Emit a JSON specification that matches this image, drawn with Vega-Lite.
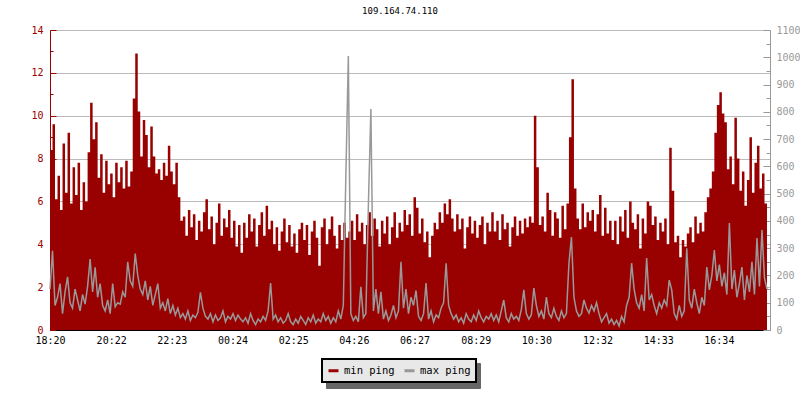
{
  "$schema": "https://vega.github.io/schema/vega-lite/v6.json",
  "width": 720,
  "height": 300,
  "autosize": {"type": "none"},
  "padding": {"left": 50, "top": 30, "right": 30, "bottom": 70},
  "background": "white",
  "title": {"text": "109.164.74.110", "font": "DejaVu Sans Mono", "fontSize": 9, "fontWeight": "normal", "color": "black", "anchor": "middle", "offset": 9, "dx": -10},
  "config": {"view": {"stroke": null}, "axis": {"labelFont": "DejaVu Sans Mono", "labelFontSize": 10, "domainWidth": 1, "tickWidth": 1}},
  "data": {"values": [
{"m":0,"minPing":8.4,"maxPing":150},{"m":5,"minPing":9.6,"maxPing":290},{"m":10,"minPing":6.1,"maxPing":90},{"m":15,"minPing":7.2,"maxPing":120},{"m":20,"minPing":5.6,"maxPing":170},{"m":25,"minPing":8.7,"maxPing":60},{"m":30,"minPing":6.4,"maxPing":140},{"m":35,"minPing":9.2,"maxPing":195},{"m":40,"minPing":5.9,"maxPing":100},{"m":45,"minPing":7.6,"maxPing":80},
{"m":50,"minPing":6.3,"maxPing":150},{"m":55,"minPing":7.8,"maxPing":110},{"m":60,"minPing":5.6,"maxPing":70},{"m":65,"minPing":6.9,"maxPing":130},{"m":70,"minPing":6.0,"maxPing":95},{"m":75,"minPing":8.3,"maxPing":160},{"m":80,"minPing":10.6,"maxPing":260},{"m":85,"minPing":8.9,"maxPing":140},{"m":90,"minPing":9.7,"maxPing":230},{"m":95,"minPing":7.1,"maxPing":120},
{"m":100,"minPing":8.2,"maxPing":170},{"m":105,"minPing":6.4,"maxPing":90},{"m":110,"minPing":7.9,"maxPing":70},{"m":115,"minPing":6.8,"maxPing":110},{"m":120,"minPing":7.3,"maxPing":60},{"m":125,"minPing":6.2,"maxPing":170},{"m":130,"minPing":7.8,"maxPing":85},{"m":135,"minPing":6.9,"maxPing":100},{"m":140,"minPing":7.6,"maxPing":95},{"m":145,"minPing":6.6,"maxPing":140},
{"m":150,"minPing":7.9,"maxPing":120},{"m":155,"minPing":6.7,"maxPing":250},{"m":160,"minPing":7.4,"maxPing":180},{"m":165,"minPing":10.8,"maxPing":160},{"m":170,"minPing":12.9,"maxPing":280},{"m":175,"minPing":10.2,"maxPing":200},{"m":180,"minPing":8.1,"maxPing":150},{"m":185,"minPing":9.8,"maxPing":130},{"m":190,"minPing":9.1,"maxPing":180},{"m":195,"minPing":7.6,"maxPing":110},
{"m":200,"minPing":9.5,"maxPing":160},{"m":205,"minPing":8.1,"maxPing":90},{"m":210,"minPing":7.3,"maxPing":130},{"m":215,"minPing":7.5,"maxPing":170},{"m":220,"minPing":7.0,"maxPing":80},{"m":225,"minPing":7.8,"maxPing":100},{"m":230,"minPing":7.2,"maxPing":70},{"m":235,"minPing":8.6,"maxPing":115},{"m":240,"minPing":7.4,"maxPing":60},{"m":245,"minPing":6.8,"maxPing":90},
{"m":250,"minPing":7.8,"maxPing":55},{"m":255,"minPing":6.2,"maxPing":80},{"m":260,"minPing":5.1,"maxPing":45},{"m":265,"minPing":5.3,"maxPing":60},{"m":270,"minPing":4.4,"maxPing":40},{"m":275,"minPing":5.6,"maxPing":70},{"m":280,"minPing":4.8,"maxPing":35},{"m":285,"minPing":5.4,"maxPing":55},{"m":290,"minPing":4.2,"maxPing":45},{"m":295,"minPing":5.1,"maxPing":65},
{"m":300,"minPing":4.6,"maxPing":138},{"m":305,"minPing":5.5,"maxPing":80},{"m":310,"minPing":6.1,"maxPing":50},{"m":315,"minPing":4.7,"maxPing":40},{"m":320,"minPing":5.3,"maxPing":60},{"m":325,"minPing":4.0,"maxPing":30},{"m":330,"minPing":5.0,"maxPing":55},{"m":335,"minPing":5.9,"maxPing":35},{"m":340,"minPing":4.4,"maxPing":45},{"m":345,"minPing":5.2,"maxPing":70},
{"m":350,"minPing":4.8,"maxPing":30},{"m":355,"minPing":5.6,"maxPing":50},{"m":360,"minPing":4.3,"maxPing":40},{"m":365,"minPing":5.1,"maxPing":60},{"m":370,"minPing":3.9,"maxPing":35},{"m":375,"minPing":4.9,"maxPing":55},{"m":380,"minPing":3.6,"maxPing":40},{"m":385,"minPing":5.0,"maxPing":30},{"m":390,"minPing":4.3,"maxPing":45},{"m":395,"minPing":5.4,"maxPing":25},
{"m":400,"minPing":4.6,"maxPing":60},{"m":405,"minPing":5.2,"maxPing":35},{"m":410,"minPing":3.9,"maxPing":20},{"m":415,"minPing":4.9,"maxPing":40},{"m":420,"minPing":5.5,"maxPing":30},{"m":425,"minPing":4.4,"maxPing":50},{"m":430,"minPing":5.8,"maxPing":35},{"m":435,"minPing":4.7,"maxPing":70},{"m":440,"minPing":5.1,"maxPing":172},{"m":445,"minPing":4.0,"maxPing":40},
{"m":450,"minPing":4.8,"maxPing":55},{"m":455,"minPing":3.7,"maxPing":30},{"m":460,"minPing":4.6,"maxPing":45},{"m":465,"minPing":5.2,"maxPing":25},{"m":470,"minPing":4.1,"maxPing":35},{"m":475,"minPing":4.9,"maxPing":60},{"m":480,"minPing":3.9,"maxPing":30},{"m":485,"minPing":4.5,"maxPing":20},{"m":490,"minPing":3.6,"maxPing":40},{"m":495,"minPing":4.7,"maxPing":25},
{"m":500,"minPing":5.0,"maxPing":50},{"m":505,"minPing":4.2,"maxPing":35},{"m":510,"minPing":4.9,"maxPing":20},{"m":515,"minPing":3.5,"maxPing":45},{"m":520,"minPing":4.6,"maxPing":30},{"m":525,"minPing":5.1,"maxPing":55},{"m":530,"minPing":4.3,"maxPing":25},{"m":535,"minPing":3.0,"maxPing":40},{"m":540,"minPing":4.8,"maxPing":30},{"m":545,"minPing":5.2,"maxPing":60},
{"m":550,"minPing":4.0,"maxPing":35},{"m":555,"minPing":4.7,"maxPing":50},{"m":560,"minPing":5.3,"maxPing":25},{"m":565,"minPing":4.4,"maxPing":45},{"m":570,"minPing":3.8,"maxPing":30},{"m":575,"minPing":4.9,"maxPing":70},{"m":580,"minPing":4.2,"maxPing":40},{"m":585,"minPing":5.0,"maxPing":90},{"m":590,"minPing":4.3,"maxPing":560},{"m":595,"minPing":4.6,"maxPing":1005},
{"m":600,"minPing":5.1,"maxPing":60},{"m":605,"minPing":4.2,"maxPing":35},{"m":610,"minPing":5.4,"maxPing":50},{"m":615,"minPing":4.6,"maxPing":30},{"m":620,"minPing":5.0,"maxPing":158},{"m":625,"minPing":4.0,"maxPing":45},{"m":630,"minPing":4.9,"maxPing":60},{"m":635,"minPing":5.5,"maxPing":458},{"m":640,"minPing":4.4,"maxPing":810},{"m":645,"minPing":5.2,"maxPing":70},
{"m":650,"minPing":4.7,"maxPing":150},{"m":655,"minPing":3.9,"maxPing":60},{"m":660,"minPing":5.1,"maxPing":140},{"m":665,"minPing":4.5,"maxPing":40},{"m":670,"minPing":5.3,"maxPing":70},{"m":675,"minPing":4.0,"maxPing":35},{"m":680,"minPing":4.8,"maxPing":55},{"m":685,"minPing":5.5,"maxPing":90},{"m":690,"minPing":4.3,"maxPing":45},{"m":695,"minPing":5.0,"maxPing":70},
{"m":700,"minPing":4.6,"maxPing":250},{"m":705,"minPing":5.6,"maxPing":80},{"m":710,"minPing":4.9,"maxPing":150},{"m":715,"minPing":5.4,"maxPing":60},{"m":720,"minPing":4.4,"maxPing":120},{"m":725,"minPing":6.2,"maxPing":90},{"m":730,"minPing":5.7,"maxPing":145},{"m":735,"minPing":4.5,"maxPing":50},{"m":740,"minPing":5.2,"maxPing":35},{"m":745,"minPing":4.1,"maxPing":60},
{"m":750,"minPing":4.6,"maxPing":172},{"m":755,"minPing":3.4,"maxPing":40},{"m":760,"minPing":4.4,"maxPing":70},{"m":765,"minPing":5.0,"maxPing":30},{"m":770,"minPing":4.7,"maxPing":55},{"m":775,"minPing":5.5,"maxPing":45},{"m":780,"minPing":5.0,"maxPing":80},{"m":785,"minPing":5.9,"maxPing":100},{"m":790,"minPing":5.4,"maxPing":245},{"m":795,"minPing":6.1,"maxPing":90},
{"m":800,"minPing":5.2,"maxPing":60},{"m":805,"minPing":4.6,"maxPing":40},{"m":810,"minPing":5.4,"maxPing":55},{"m":815,"minPing":4.7,"maxPing":30},{"m":820,"minPing":5.2,"maxPing":45},{"m":825,"minPing":3.8,"maxPing":25},{"m":830,"minPing":4.8,"maxPing":60},{"m":835,"minPing":5.3,"maxPing":40},{"m":840,"minPing":4.5,"maxPing":30},{"m":845,"minPing":5.1,"maxPing":55},
{"m":850,"minPing":4.3,"maxPing":35},{"m":855,"minPing":4.9,"maxPing":70},{"m":860,"minPing":5.3,"maxPing":45},{"m":865,"minPing":4.0,"maxPing":30},{"m":870,"minPing":5.0,"maxPing":50},{"m":875,"minPing":4.6,"maxPing":40},{"m":880,"minPing":5.5,"maxPing":60},{"m":885,"minPing":4.6,"maxPing":35},{"m":890,"minPing":5.1,"maxPing":55},{"m":895,"minPing":4.2,"maxPing":30},
{"m":900,"minPing":5.4,"maxPing":70},{"m":905,"minPing":4.7,"maxPing":110},{"m":910,"minPing":5.0,"maxPing":45},{"m":915,"minPing":3.9,"maxPing":30},{"m":920,"minPing":4.8,"maxPing":60},{"m":925,"minPing":5.3,"maxPing":40},{"m":930,"minPing":4.4,"maxPing":50},{"m":935,"minPing":5.1,"maxPing":35},{"m":940,"minPing":4.5,"maxPing":75},{"m":945,"minPing":5.2,"maxPing":147},
{"m":950,"minPing":4.8,"maxPing":60},{"m":955,"minPing":5.3,"maxPing":40},{"m":960,"minPing":5.0,"maxPing":55},{"m":965,"minPing":10.0,"maxPing":154},{"m":970,"minPing":7.6,"maxPing":90},{"m":975,"minPing":4.9,"maxPing":50},{"m":980,"minPing":5.3,"maxPing":70},{"m":985,"minPing":4.6,"maxPing":40},{"m":990,"minPing":6.4,"maxPing":121},{"m":995,"minPing":5.6,"maxPing":60},
{"m":1000,"minPing":4.4,"maxPing":45},{"m":1005,"minPing":5.5,"maxPing":80},{"m":1010,"minPing":5.2,"maxPing":50},{"m":1015,"minPing":4.3,"maxPing":35},{"m":1020,"minPing":5.8,"maxPing":70},{"m":1025,"minPing":4.7,"maxPing":45},{"m":1030,"minPing":5.9,"maxPing":60},{"m":1035,"minPing":9.0,"maxPing":245},{"m":1040,"minPing":11.7,"maxPing":341},{"m":1045,"minPing":6.6,"maxPing":120},
{"m":1050,"minPing":5.2,"maxPing":70},{"m":1055,"minPing":4.7,"maxPing":50},{"m":1060,"minPing":5.9,"maxPing":60},{"m":1065,"minPing":4.8,"maxPing":110},{"m":1070,"minPing":5.5,"maxPing":80},{"m":1075,"minPing":5.1,"maxPing":62},{"m":1080,"minPing":5.6,"maxPing":90},{"m":1085,"minPing":4.6,"maxPing":70},{"m":1090,"minPing":5.4,"maxPing":100},{"m":1095,"minPing":6.3,"maxPing":60},
{"m":1100,"minPing":4.4,"maxPing":30},{"m":1105,"minPing":5.7,"maxPing":45},{"m":1110,"minPing":4.5,"maxPing":60},{"m":1115,"minPing":5.1,"maxPing":25},{"m":1120,"minPing":4.2,"maxPing":40},{"m":1125,"minPing":5.1,"maxPing":20},{"m":1130,"minPing":4.0,"maxPing":35},{"m":1135,"minPing":5.3,"maxPing":15},{"m":1140,"minPing":4.6,"maxPing":50},{"m":1145,"minPing":5.6,"maxPing":30},
{"m":1150,"minPing":4.3,"maxPing":90},{"m":1155,"minPing":6.0,"maxPing":120},{"m":1160,"minPing":5.0,"maxPing":245},{"m":1165,"minPing":4.7,"maxPing":150},{"m":1170,"minPing":5.4,"maxPing":100},{"m":1175,"minPing":3.8,"maxPing":80},{"m":1180,"minPing":5.2,"maxPing":130},{"m":1185,"minPing":4.5,"maxPing":70},{"m":1190,"minPing":6.0,"maxPing":264},{"m":1195,"minPing":5.8,"maxPing":110},
{"m":1200,"minPing":4.9,"maxPing":130},{"m":1205,"minPing":5.3,"maxPing":90},{"m":1210,"minPing":4.2,"maxPing":60},{"m":1215,"minPing":5.0,"maxPing":100},{"m":1220,"minPing":4.6,"maxPing":80},{"m":1225,"minPing":5.2,"maxPing":110},{"m":1230,"minPing":4.0,"maxPing":90},{"m":1235,"minPing":8.5,"maxPing":183},{"m":1240,"minPing":6.5,"maxPing":147},{"m":1245,"minPing":4.1,"maxPing":60},
{"m":1250,"minPing":4.4,"maxPing":40},{"m":1255,"minPing":3.4,"maxPing":90},{"m":1260,"minPing":4.2,"maxPing":50},{"m":1265,"minPing":3.9,"maxPing":70},{"m":1270,"minPing":4.5,"maxPing":300},{"m":1275,"minPing":4.8,"maxPing":110},{"m":1280,"minPing":4.1,"maxPing":80},{"m":1285,"minPing":5.3,"maxPing":150},{"m":1290,"minPing":4.5,"maxPing":100},{"m":1295,"minPing":5.0,"maxPing":60},
{"m":1300,"minPing":4.6,"maxPing":120},{"m":1305,"minPing":5.5,"maxPing":90},{"m":1310,"minPing":6.2,"maxPing":231},{"m":1315,"minPing":6.6,"maxPing":147},{"m":1320,"minPing":7.4,"maxPing":200},{"m":1325,"minPing":9.2,"maxPing":293},{"m":1330,"minPing":10.5,"maxPing":180},{"m":1335,"minPing":11.1,"maxPing":240},{"m":1340,"minPing":10.1,"maxPing":160},{"m":1345,"minPing":9.7,"maxPing":210},
{"m":1350,"minPing":7.5,"maxPing":130},{"m":1355,"minPing":8.1,"maxPing":392},{"m":1360,"minPing":6.8,"maxPing":150},{"m":1365,"minPing":9.9,"maxPing":220},{"m":1370,"minPing":8.0,"maxPing":120},{"m":1375,"minPing":6.5,"maxPing":170},{"m":1380,"minPing":7.4,"maxPing":231},{"m":1385,"minPing":5.8,"maxPing":110},{"m":1390,"minPing":7.0,"maxPing":200},{"m":1395,"minPing":9.0,"maxPing":140},
{"m":1400,"minPing":6.4,"maxPing":250},{"m":1405,"minPing":7.8,"maxPing":130},{"m":1410,"minPing":8.6,"maxPing":337},{"m":1415,"minPing":6.6,"maxPing":160},{"m":1420,"minPing":7.3,"maxPing":367},{"m":1425,"minPing":5.9,"maxPing":190},{"m":1430,"minPing":7.6,"maxPing":150}
  ]},
  "layer": [
    {
      "mark": {"type": "area", "interpolate": "step-after"},
      "encoding": {
        "x": {"field": "m", "type": "quantitative", "scale": {"domain": [0, 1436], "nice": false, "zero": false},
          "axis": {"title": null, "values": [0,122,243,364,485,606,727,849,970,1092,1213,1334], "labelExpr": "timeFormat(datetime(2000,0,1,18,20+datum.value),'%H:%M')", "grid": false, "domainColor": "black", "tickColor": "black", "tickSize": -5, "labelColor": "black", "labelPadding": 10, "labelFlush": false, "labelOverlap": false}},
        "y": {"field": "minPing", "type": "quantitative", "scale": {"domain": [0, 14], "nice": false},
          "axis": {"title": null, "orient": "left", "values": [0,1,2,3,4,5,6,7,8,9,10,11,12,13,14], "labelExpr": "datum.value % 2 == 0 ? datum.label : ''", "grid": true, "gridColor": "#bbbbbb", "gridOpacity": {"condition": {"test": "datum.value % 2 == 0", "value": 1}, "value": 0}, "domainColor": "#990000", "tickColor": "#990000", "labelColor": "#990000", "tickSize": {"condition": {"test": "datum.value % 2 == 0", "value": -6}, "value": -3}, "labelPadding": 13, "labelFlush": false, "labelOverlap": false}},
        "color": {"datum": "min ping", "type": "nominal", "scale": {"domain": ["min ping", "max ping"], "range": ["#990000", "#999999"]},
          "legend": {"orient": "none", "legendX": 272, "legendY": 329, "zindex": 2, "direction": "horizontal", "title": null, "fillColor": "#e8e8e8", "strokeColor": "black", "padding": 5, "symbolType": "stroke", "symbolStrokeWidth": 3, "symbolSize": 100, "labelFont": "DejaVu Sans Mono", "labelFontSize": 10.5, "labelColor": "black", "columnPadding": 3, "labelOffset": 4,
            "encode": {"legend": {"update": {"strokeWidth": {"value": 2}}}}}}
      }
    },
    {
      "mark": {"type": "line", "strokeWidth": 1.5},
      "encoding": {
        "x": {"field": "m", "type": "quantitative"},
        "y": {"field": "maxPing", "type": "quantitative", "scale": {"domain": [0, 1100], "nice": false},
          "axis": {"title": null, "orient": "right", "values": [0,50,100,150,200,250,300,350,400,450,500,550,600,650,700,750,800,850,900,950,1000,1050,1100], "labelExpr": "datum.value % 100 == 0 ? datum.label : ''", "format": "d", "grid": false, "domainColor": "#999999", "tickColor": "#999999", "labelColor": "#999999", "tickSize": {"condition": {"test": "datum.value % 100 == 0", "value": -7}, "value": -4}, "labelPadding": 13, "labelFlush": false, "labelOverlap": false}},
        "color": {"datum": "max ping", "type": "nominal"}
      }
    },
    {
      "mark": {"type": "point", "opacity": 0},
      "encoding": {
        "x": {"field": "m", "type": "quantitative"},
        "shape": {"datum": "a", "type": "nominal", "scale": {"domain": ["a", "b"], "range": ["square", "square"]},
          "legend": {"orient": "none", "legendX": 276, "legendY": 333, "zindex": 1, "direction": "horizontal", "title": null, "labelExpr": "''", "fillColor": "#666666", "strokeColor": "#666666", "padding": 5, "symbolOpacity": 0, "symbolSize": 196, "labelFontSize": 10.5, "columnPadding": 104, "labelOffset": 4}}
      }
    }
  ],
  "resolve": {"scale": {"y": "independent"}}
}
